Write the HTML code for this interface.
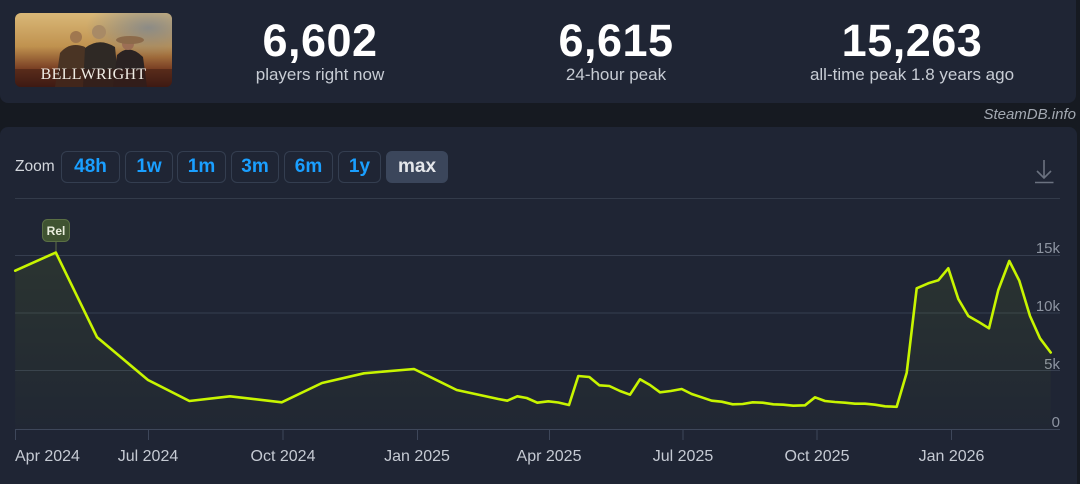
<!DOCTYPE html>
<html>
<head>
<meta charset="utf-8">
<style>
  html,body{margin:0;padding:0;width:1080px;height:484px;overflow:hidden;}
  body{background:#161a21;position:relative;font-family:"Liberation Sans",Arial,sans-serif;}
  .card{position:absolute;background:#1f2534;}
  #hdr{left:0;top:-10px;width:1076px;height:113px;border-radius:8px;}
  #chartcard{left:0;top:127px;width:1077px;height:357px;border-radius:8px 8px 0 0;}
  .num{position:absolute;top:16px;font-weight:bold;font-size:45px;color:#fff;text-align:center;width:260px;letter-spacing:0.5px;line-height:50px;}
  .lbl{position:absolute;top:65px;font-size:17px;color:#c7ccd4;text-align:center;width:260px;line-height:20px;}
  #sdb{position:absolute;right:4px;top:106px;font-size:15px;font-style:italic;color:#a3a9b2;}
  .zoomlbl{position:absolute;left:15px;top:158px;font-size:15.5px;color:#d2d6dc;}
  .btn{position:absolute;top:151px;height:30px;border:1px solid #343e50;border-radius:6px;color:#1a9fff;font-weight:bold;font-size:19px;text-align:center;line-height:30px;}
  .btn.act{background:#3b465b;border-color:#3b465b;color:#e4e6ea;}
</style>
</head>
<body>
<div class="card" id="hdr"></div>
<div class="card" id="chartcard"></div>

<!-- logo -->
<svg style="position:absolute;left:15px;top:13px" width="157" height="74" viewBox="0 0 157 74">
  <defs>
    <clipPath id="lc"><rect x="0" y="0" width="157" height="74" rx="6"/></clipPath>
    <linearGradient id="sky" x1="0" y1="0" x2="0" y2="1">
      <stop offset="0" stop-color="#d9b878"/>
      <stop offset="0.45" stop-color="#c0924f"/>
      <stop offset="0.75" stop-color="#7a4024"/>
      <stop offset="1" stop-color="#421b14"/>
    </linearGradient>
    <radialGradient id="cl" cx="0.85" cy="0.2" r="0.4">
      <stop offset="0" stop-color="#6f7f94" stop-opacity="0.7"/>
      <stop offset="1" stop-color="#6f7f94" stop-opacity="0"/>
    </radialGradient>
  </defs>
  <g clip-path="url(#lc)">
    <rect width="157" height="74" fill="url(#sky)"/>
    <rect width="157" height="74" fill="url(#cl)"/>
    <path d="M40,74 L45,40 Q55,28 70,34 L75,74 Z" fill="#4a3424"/>
    <path d="M68,74 L70,35 Q84,24 100,34 L104,74 Z" fill="#2f2925"/>
    <path d="M98,74 L102,42 Q114,30 128,44 L132,74 Z" fill="#2a2222"/>
    <circle cx="61" cy="24" r="6" fill="#a0774f"/>
    <circle cx="84" cy="19" r="7" fill="#a88a66"/>
    <circle cx="113" cy="31" r="6" fill="#9c6e55"/>
    <ellipse cx="115" cy="27" rx="14" ry="4" fill="#8c6a4a"/>
    <rect x="0" y="56" width="157" height="18" fill="#3a1712" opacity="0.5"/>
    <text x="78.5" y="66" text-anchor="middle" font-family="Liberation Serif,serif" font-size="16" fill="#f0ece4" letter-spacing="0.3">BELLWRIGHT</text>
  </g>
</svg>

<div class="num" style="left:190px">6,602</div>
<div class="lbl" style="left:190px">players right now</div>
<div class="num" style="left:486px">6,615</div>
<div class="lbl" style="left:486px">24-hour peak</div>
<div class="num" style="left:782px">15,263</div>
<div class="lbl" style="left:782px">all-time peak 1.8 years ago</div>

<div id="sdb">SteamDB.info</div>

<div class="zoomlbl">Zoom</div>
<div class="btn" style="left:61px;width:57px">48h</div>
<div class="btn" style="left:125px;width:46px">1w</div>
<div class="btn" style="left:177px;width:47px">1m</div>
<div class="btn" style="left:231px;width:46px">3m</div>
<div class="btn" style="left:284px;width:47px">6m</div>
<div class="btn" style="left:338px;width:41px">1y</div>
<div class="btn act" style="left:386px;width:60px">max</div>

<svg style="position:absolute;left:0;top:0" width="1080" height="484" viewBox="0 0 1080 484">
  <defs>
    <linearGradient id="fillg" x1="0" y1="0" x2="0" y2="1">
      <stop offset="0" stop-color="#c8ff00" stop-opacity="0.07"/>
      <stop offset="1" stop-color="#c8ff00" stop-opacity="0.01"/>
    </linearGradient>
  </defs>
  <!-- download icon -->
  <g stroke="#6b7280" stroke-width="1.6" fill="none">
    <line x1="1044" y1="160" x2="1044" y2="177"/>
    <polyline points="1037,171 1044,178 1051,171"/>
    <line x1="1035" y1="182.5" x2="1053.5" y2="182.5"/>
  </g>
  <!-- separator -->
  <line x1="15" y1="198.5" x2="1060" y2="198.5" stroke="#333b4a" stroke-width="1"/>
  <!-- gridlines -->
  <g stroke="#363e4f" stroke-width="1">
    <line x1="15" y1="255.5" x2="1060" y2="255.5"/>
    <line x1="15" y1="313" x2="1060" y2="313"/>
    <line x1="15" y1="370.5" x2="1060" y2="370.5"/>
  </g>
  <line x1="15" y1="429.5" x2="1060" y2="429.5" stroke="#3e475a" stroke-width="1"/>
  <g stroke="#3e475a" stroke-width="1">
    <line x1="15.5" y1="429" x2="15.5" y2="440"/>
    <line x1="148.5" y1="429" x2="148.5" y2="440"/>
    <line x1="283" y1="429" x2="283" y2="440"/>
    <line x1="417.5" y1="429" x2="417.5" y2="440"/>
    <line x1="549.5" y1="429" x2="549.5" y2="440"/>
    <line x1="683" y1="429" x2="683" y2="440"/>
    <line x1="817" y1="429" x2="817" y2="440"/>
    <line x1="951.5" y1="429" x2="951.5" y2="440"/>
  </g>
  <!-- y labels -->
  <g font-family="Liberation Sans,Arial,sans-serif" font-size="15" fill="#8d94a1" text-anchor="end">
    <text x="1060" y="253">15k</text>
    <text x="1060" y="311">10k</text>
    <text x="1060" y="369">5k</text>
    <text x="1060" y="427">0</text>
  </g>
  <!-- x labels -->
  <g font-family="Liberation Sans,Arial,sans-serif" font-size="16" fill="#c5cad3" text-anchor="middle">
    <text x="15" y="461" text-anchor="start">Apr 2024</text>
    <text x="148" y="461">Jul 2024</text>
    <text x="283" y="461">Oct 2024</text>
    <text x="417" y="461">Jan 2025</text>
    <text x="549" y="461">Apr 2025</text>
    <text x="683" y="461">Jul 2025</text>
    <text x="817" y="461">Oct 2025</text>
    <text x="951.5" y="461">Jan 2026</text>
  </g>
  <!-- area -->
  <polygon fill="url(#fillg)" points="15.2,429 15.2,270.7 55.8,252.5 97.1,337.3 148,380 189.4,401 230,396.3 281.7,402.3 322,383 364,373.3 414,369 456.7,390 498.3,399 507.3,400.7 517.3,396.3 526.7,398 537.3,402.7 548.3,401.3 558.3,402.5 569,405 578.3,376 589.3,377 599.3,385.3 609.3,386 620,391 630,394.7 640,379.3 650,385 660,392.3 670.7,391 681.7,389 691.7,394 701.7,397.3 711.7,400.7 721.7,401.7 732.7,404.3 742.7,404 752.7,402.3 762.7,402.7 773.3,404.3 783.3,404.7 793.3,405.7 805,405.3 815,397.3 825,401 835,402 845,402.7 855,403.7 865,403.7 875,404.7 885,406.3 896.7,406.8 906.7,372.7 916.7,288.3 928.3,283.3 938.3,280.3 948.3,268.3 958.3,299 968.3,316 978.3,321.7 989,328.3 998.3,290 1009.3,261 1019.3,280.7 1030,316 1040,338.3 1050.7,352.5 1050.7,429"/>
  <!-- Rel marker -->
  <line x1="56" y1="242" x2="56" y2="252" stroke="#5f7049" stroke-width="1"/>
  <rect x="42.5" y="219.5" width="27" height="22" rx="5" fill="#3f5331" stroke="#5a6f44" stroke-width="1"/>
  <text x="56" y="235" text-anchor="middle" font-family="Liberation Sans,Arial,sans-serif" font-weight="bold" font-size="12" fill="#e9eddc">Rel</text>
  <!-- line -->
  <polyline fill="none" stroke="#c8f500" stroke-width="2.6" stroke-linejoin="round" stroke-linecap="round" points="15.2,270.7 55.8,252.5 97.1,337.3 148,380 189.4,401 230,396.3 281.7,402.3 322,383 364,373.3 414,369 456.7,390 498.3,399 507.3,400.7 517.3,396.3 526.7,398 537.3,402.7 548.3,401.3 558.3,402.5 569,405 578.3,376 589.3,377 599.3,385.3 609.3,386 620,391 630,394.7 640,379.3 650,385 660,392.3 670.7,391 681.7,389 691.7,394 701.7,397.3 711.7,400.7 721.7,401.7 732.7,404.3 742.7,404 752.7,402.3 762.7,402.7 773.3,404.3 783.3,404.7 793.3,405.7 805,405.3 815,397.3 825,401 835,402 845,402.7 855,403.7 865,403.7 875,404.7 885,406.3 896.7,406.8 906.7,372.7 916.7,288.3 928.3,283.3 938.3,280.3 948.3,268.3 958.3,299 968.3,316 978.3,321.7 989,328.3 998.3,290 1009.3,261 1019.3,280.7 1030,316 1040,338.3 1050.7,352.5"/>
</svg>
</body>
</html>
